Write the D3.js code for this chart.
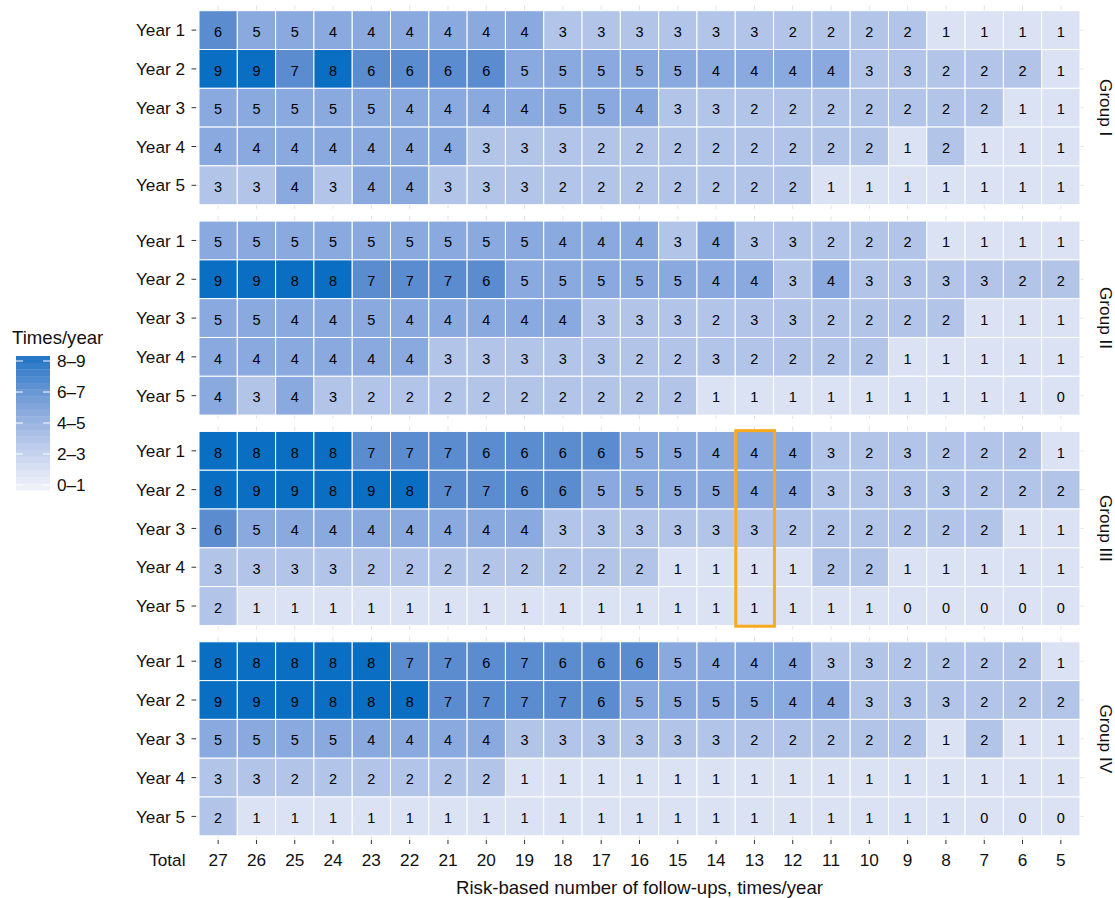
<!DOCTYPE html>
<html><head><meta charset="utf-8">
<script src="https://cdn.jsdelivr.net/npm/d3@7"></script>
<style>body{margin:0;background:#fff} text{font-family:"Liberation Sans",Arial,Helvetica,sans-serif}</style>
</head><body><svg id="c" width="1115" height="898"></svg>
<script>
// ---- data ----
const followUps = [27,26,25,24,23,22,21,20,19,18,17,16,15,14,13,12,11,10,9,8,7,6,5];
const years = ["Year 1","Year 2","Year 3","Year 4","Year 5"];
const groups = ["Group I","Group II","Group III","Group IV"];
const groupI = [
  [6,5,5,4,4,4,4,4,4,3,3,3,3,3,3,2,2,2,2,1,1,1,1],
  [9,9,7,8,6,6,6,6,5,5,5,5,5,4,4,4,4,3,3,2,2,2,1],
  [5,5,5,5,5,4,4,4,4,5,5,4,3,3,2,2,2,2,2,2,2,1,1],
  [4,4,4,4,4,4,4,3,3,3,2,2,2,2,2,2,2,2,1,2,1,1,1],
  [3,3,4,3,4,4,3,3,3,2,2,2,2,2,2,2,1,1,1,1,1,1,1]
];
const groupII = [
  [5,5,5,5,5,5,5,5,5,4,4,4,3,4,3,3,2,2,2,1,1,1,1],
  [9,9,8,8,7,7,7,6,5,5,5,5,5,4,4,3,4,3,3,3,3,2,2],
  [5,5,4,4,5,4,4,4,4,4,3,3,3,2,3,3,2,2,2,2,1,1,1],
  [4,4,4,4,4,4,3,3,3,3,3,2,2,3,2,2,2,2,1,1,1,1,1],
  [4,3,4,3,2,2,2,2,2,2,2,2,2,1,1,1,1,1,1,1,1,1,0]
];
const groupIII = [
  [8,8,8,8,7,7,7,6,6,6,6,5,5,4,4,4,3,2,3,2,2,2,1],
  [8,9,9,8,9,8,7,7,6,6,5,5,5,5,4,4,3,3,3,3,2,2,2],
  [6,5,4,4,4,4,4,4,4,3,3,3,3,3,3,2,2,2,2,2,2,1,1],
  [3,3,3,3,2,2,2,2,2,2,2,2,1,1,1,1,2,2,1,1,1,1,1],
  [2,1,1,1,1,1,1,1,1,1,1,1,1,1,1,1,1,1,0,0,0,0,0]
];
const groupIV = [
  [8,8,8,8,8,7,7,6,7,6,6,6,5,4,4,4,3,3,2,2,2,2,1],
  [9,9,9,8,8,8,7,7,7,7,6,5,5,5,5,4,4,3,3,3,2,2,2],
  [5,5,5,5,4,4,4,4,3,3,3,3,3,3,2,2,2,2,2,1,2,1,1],
  [3,3,2,2,2,2,2,2,1,1,1,1,1,1,1,1,1,1,1,1,1,1,1],
  [2,1,1,1,1,1,1,1,1,1,1,1,1,1,1,1,1,1,1,1,0,0,0]
];
const groupValues = [groupI, groupII, groupIII, groupIV];
const legendLabels = ["8–9","6–7","4–5","2–3","0–1"];
const highlightGroup = "Group III";
const highlightFollowUp = 13;

// ---- chart ----
const svg = d3.select("#c");
const FONT_AX = 17.2, FONT_CELL = 14.5, FONT_TITLE = 18.6;

const x = d3.scaleBand().domain(followUps).range([199, 1080]);
const panel = d3.scaleBand().domain(groups).range([10.7, 835.8]).paddingInner(0.0778);
const y = d3.scaleBand().domain(years).range([0, panel.bandwidth()]);
const color = d3.scaleThreshold().domain([2,4,6,8])
  .range(["#dbe2f3","#b2c5e9","#8aa9de","#5b8cd0","#0a6fc2"]);

groups.forEach((g, gi) => {
  const top = panel(g);
  const gp = svg.append("g").attr("transform", `translate(0,${top})`);
  const h = panel.bandwidth();
  // faint grid (visible only in panel margins)
  gp.append("g").selectAll("line.v").data(followUps).join("line")
    .attr("x1", d => x(d) + x.bandwidth()/2).attr("x2", d => x(d) + x.bandwidth()/2)
    .attr("y1", -5).attr("y2", h + 4)
    .attr("stroke", "#e2e2e2").attr("stroke-width", 1);
  gp.append("g").selectAll("line.h").data(years).join("line")
    .attr("y1", d => y(d) + y.bandwidth()/2).attr("y2", d => y(d) + y.bandwidth()/2)
    .attr("x1", 195.5).attr("x2", 1083.5)
    .attr("stroke", "#e2e2e2").attr("stroke-width", 1);

  const cells = [];
  groupValues[gi].forEach((row, ri) => row.forEach((v, ci) =>
    cells.push({year: years[ri], f: followUps[ci], v})));

  gp.append("g").selectAll("rect").data(cells).join("rect")
    .attr("x", d => x(d.f)).attr("y", d => y(d.year))
    .attr("width", x.bandwidth()).attr("height", y.bandwidth())
    .attr("fill", d => color(d.v)).attr("stroke", "#fff").attr("stroke-width", 1);

  gp.append("g").selectAll("text").data(cells).join("text")
    .attr("x", d => x(d.f) + x.bandwidth()/2)
    .attr("y", d => y(d.year) + y.bandwidth()/2 + 0.358*FONT_CELL + 1.5)
    .attr("text-anchor", "middle").attr("font-size", FONT_CELL).attr("fill", "#000")
    .text(d => d.v);

  // y axis
  const ya = gp.append("g");
  ya.selectAll("line").data(years).join("line")
    .attr("x1", 191.5).attr("x2", 196)
    .attr("y1", d => y(d) + y.bandwidth()/2).attr("y2", d => y(d) + y.bandwidth()/2)
    .attr("stroke", "#333").attr("stroke-width", 1);
  ya.selectAll("text").data(years).join("text")
    .attr("x", 185).attr("y", d => y(d) + y.bandwidth()/2 + 0.358*FONT_AX)
    .attr("text-anchor", "end").attr("font-size", FONT_AX).attr("fill", "#111")
    .text(d => d);

  // strip label
  const cy = h/2;
  gp.append("text").attr("x", 1100).attr("y", cy)
    .attr("transform", `rotate(90,1100,${cy})`)
    .attr("text-anchor", "middle").attr("font-size", FONT_AX).attr("fill", "#111")
    .text(g);

  if (g === highlightGroup) {
    gp.append("rect")
      .attr("x", x(highlightFollowUp) + 0.5).attr("y", -0.8)
      .attr("width", x.bandwidth() + 0.4).attr("height", h + 1.6)
      .attr("fill", "none").attr("stroke", "#f9aa1c").attr("stroke-width", 3);
  }
});

// x axis
const xa = svg.append("g");
xa.selectAll("line").data(followUps).join("line")
  .attr("x1", d => x(d) + x.bandwidth()/2).attr("x2", d => x(d) + x.bandwidth()/2)
  .attr("y1", 840).attr("y2", 844).attr("stroke", "#333").attr("stroke-width", 1);
xa.selectAll("text").data(followUps).join("text")
  .attr("x", d => x(d) + x.bandwidth()/2).attr("y", 866)
  .attr("text-anchor", "middle").attr("font-size", FONT_AX).attr("fill", "#111")
  .text(d => d);
svg.append("text").attr("x", 185.5).attr("y", 866).attr("text-anchor", "end")
  .attr("font-size", FONT_AX).attr("fill", "#111").text("Total");
svg.append("text").attr("x", 639.5).attr("y", 894).attr("text-anchor", "middle")
  .attr("font-size", FONT_TITLE).attr("fill", "#111")
  .text("Risk-based number of follow-ups, times/year");

// legend
const lg = svg.append("g");
lg.append("text").attr("x", 12).attr("y", 344).attr("font-size", FONT_TITLE).attr("fill", "#111")
  .text("Times/year");
const nb = 20, barTop = 356, barBot = 490;
const ramp = d3.interpolateRgbBasis(["#eff1f9","#c8d4ee","#9cb5e1","#6a96d4","#2777c7"]);
const bands = d3.range(nb);
const bandY = d3.scaleBand().domain(bands).range([barBot, barTop]);
lg.selectAll("rect").data(bands).join("rect")
  .attr("x", 16).attr("width", 34)
  .attr("y", d => bandY(d)).attr("height", bandY.bandwidth() + 0.3)
  .attr("fill", d => ramp(d/(nb-1)));
const ly = d3.scalePoint().domain(legendLabels).range([361, 485]);
legendLabels.forEach(l => {
  lg.append("line").attr("x1", 16).attr("x2", 23).attr("y1", ly(l)).attr("y2", ly(l))
    .attr("stroke", "#fff").attr("stroke-width", 1);
  lg.append("line").attr("x1", 43).attr("x2", 50).attr("y1", ly(l)).attr("y2", ly(l))
    .attr("stroke", "#fff").attr("stroke-width", 1);
});
lg.selectAll("text.l").data(legendLabels).join("text")
  .attr("x", 57).attr("y", d => ly(d) + 0.358*FONT_AX)
  .attr("font-size", FONT_AX).attr("fill", "#111").text(d => d);
</script></body></html>
